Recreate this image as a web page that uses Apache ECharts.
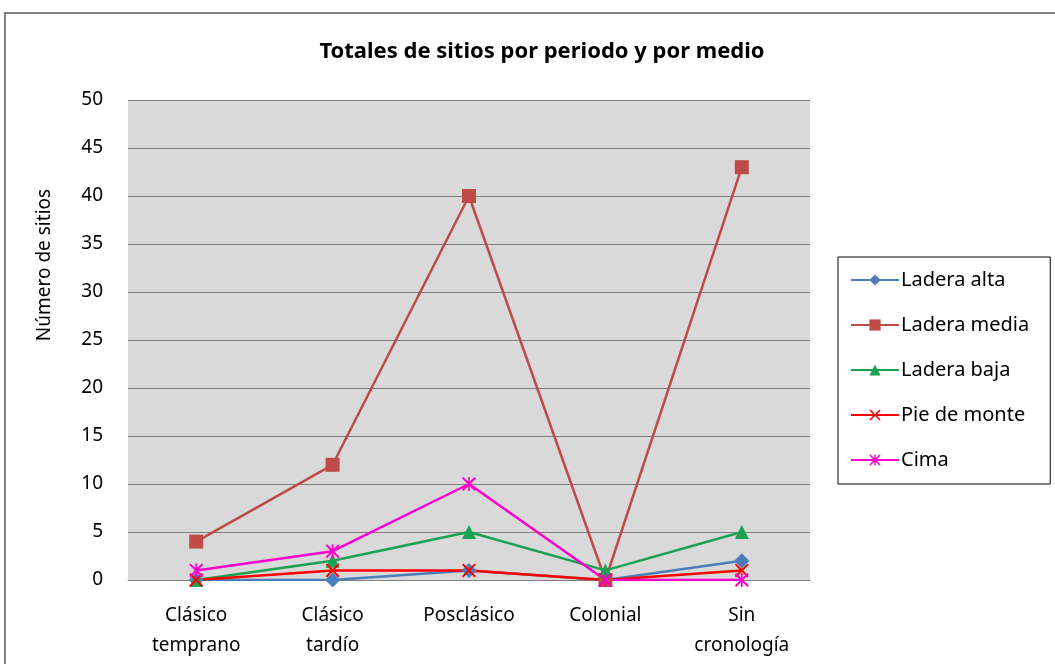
<!DOCTYPE html>
<html>
<head>
<meta charset="utf-8">
<script src="https://cdn.jsdelivr.net/npm/echarts@6/dist/echarts.min.js"></script>
<style>
  html, body { margin: 0; padding: 0; background: #fff; }
  #chart { width: 1055px; height: 664px; }
</style>
</head>
<body>
<div id="chart"></div>
<script>
// periodos
var categories = ['Clásico\ntemprano', 'Clásico\ntardío', 'Posclásico', 'Colonial', 'Sin\ncronología'];
var laderaAlta = [0, 0, 1, 0, 2];
var laderaMedia = [4, 12, 40, 0, 43];
var laderaBaja = [0, 2, 5, 1, 5];
var pieDeMonte = [0, 1, 1, 0, 1];
var cima = [1, 3, 10, 0, 0];
var yTicks = [0, 5, 10, 15, 20, 25, 30, 35, 40, 45, 50];

var FONT = 'Noto Sans';
var crossPath = 'path://M0,1 L1,0 L5,4 L9,0 L10,1 L6,5 L10,9 L9,10 L5,6 L1,10 L0,9 L4,5 Z';
var starPath = 'path://M0,1 L1,0 L5,4 L9,0 L10,1 L6,5 L10,9 L9,10 L5,6 L1,10 L0,9 L4,5 Z M4.4,0 L5.6,0 L5.6,10 L4.4,10 Z';

function serie(name, data, color, symbol, size) {
    return {
        name: name,
        type: 'line',
        data: data,
        symbol: symbol,
        symbolSize: size,
        lineStyle: { color: color, width: 2.5 },
        itemStyle: { color: color },
        emphasis: { disabled: true }
    };
}

var chart = echarts.init(document.getElementById('chart'));
chart.setOption({
    animation: false,
    textStyle: { fontFamily: FONT },
    title: {
        text: 'Totales de sitios por periodo y por medio',
        left: 537,
        textAlign: 'center',
        top: 36,
        textStyle: { fontFamily: FONT, fontSize: 22, fontWeight: 'bold', color: '#000' }
    },
    graphic: [
        {
            type: 'rect',
            shape: { x: 5, y: 13, width: 1060, height: 670 },
            style: { fill: 'none', stroke: '#808080', lineWidth: 2 },
            z: 10
        },
        {
            type: 'text',
            x: 45,
            y: 265,
            rotation: Math.PI / 2,
            style: {
                text: 'Número de sitios',
                fontFamily: FONT,
                fontSize: 19,
                fill: '#000',
                textAlign: 'center',
                textVerticalAlign: 'middle'
            }
        }
    ],
    legend: {
        orient: 'vertical',
        left: 838,
        top: 257,
        padding: [13, 21, 14, 12],
        itemGap: 25,
        itemWidth: 48,
        itemHeight: 14,
        borderColor: '#000',
        borderWidth: 1,
        backgroundColor: '#fff',
        textStyle: { fontFamily: FONT, fontSize: 20, color: '#000', padding: [0, 0, 0, -3] },
        data: ['Ladera alta', 'Ladera media', 'Ladera baja', 'Pie de monte', 'Cima']
    },
    grid: {
        left: 128,
        right: 245,
        top: 100,
        bottom: 84,
        show: true,
        backgroundColor: '#d9d9d9',
        borderWidth: 0
    },
    xAxis: {
        type: 'category',
        data: categories,
        boundaryGap: true,
        axisLine: { show: true, lineStyle: { color: '#808080' } },
        axisTick: { show: false },
        axisLabel: {
            fontFamily: FONT,
            fontSize: 19,
            color: '#000',
            margin: 21,
            lineHeight: 30,
            interval: 0
        }
    },
    yAxis: {
        type: 'value',
        min: 0,
        max: 50,
        interval: 5,
        axisLine: { show: false },
        axisTick: { show: false },
        splitLine: { lineStyle: { color: '#7f7f7f', width: 1 } },
        axisLabel: {
            fontFamily: FONT,
            fontSize: 19,
            color: '#000',
            margin: 25,
            customValues: yTicks
        }
    },
    series: [
        serie('Ladera alta', laderaAlta, '#4a7ebb', 'diamond', 15),
        serie('Ladera media', laderaMedia, '#be4b48', 'rect', 14),
        serie('Ladera baja', laderaBaja, '#1aa152', 'triangle', 14),
        serie('Pie de monte', pieDeMonte, '#ff0000', crossPath, 14),
        serie('Cima', cima, '#ff00cc', starPath, 14)
    ]
});
</script>
</body>
</html>
